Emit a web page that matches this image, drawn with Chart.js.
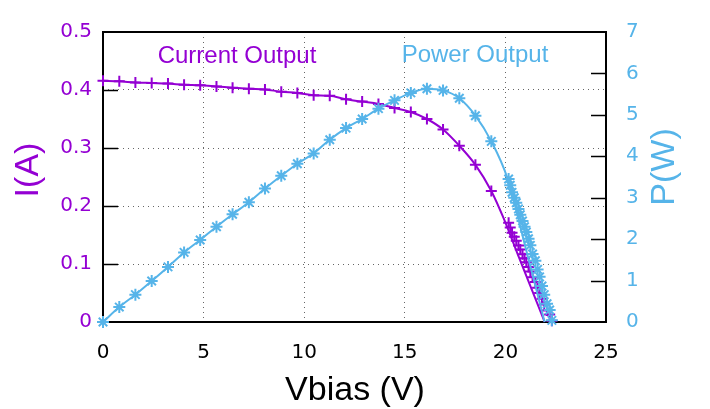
<!DOCTYPE html>
<html>
<head>
<meta charset="utf-8">
<script src="https://cdn.jsdelivr.net/npm/chart.js@4"></script>
<style>
  html, body { margin: 0; padding: 0; background: #fff; overflow: hidden; }
  canvas { display: block; }
</style>
</head>
<body>
<canvas id="ivChart" width="710" height="409"></canvas>
<script>
/* --- solar cell I-V / P-V sweep --- */

const PURPLE = '#9400d3';
const SKY = '#56b4e9';

// measured sweep (V), current (A), power (W)
const vbias = [0, 0.81, 1.61, 2.42, 3.23, 4.03, 4.83, 5.64, 6.44, 7.25, 8.05, 8.86, 9.66,
    10.47, 11.27, 12.08, 12.88, 13.69, 14.49, 15.3, 16.1, 16.9, 17.71, 18.51, 19.3,
    20.16, 20.24, 20.33, 20.44, 20.54, 20.65, 20.74, 20.85, 20.95, 21.04, 21.15,
    21.24, 21.35, 21.49, 21.6, 21.7, 21.82, 21.93, 22.07, 22.2, 22.31];
const current = [0.416, 0.415, 0.413, 0.412, 0.411, 0.409, 0.408, 0.406, 0.404, 0.402, 0.401, 0.397, 0.395,
    0.391, 0.39, 0.384, 0.38, 0.376, 0.369, 0.362, 0.35, 0.332, 0.304, 0.271, 0.226,
    0.171, 0.163, 0.154, 0.147, 0.14, 0.132, 0.125, 0.117, 0.11, 0.103, 0.095,
    0.087, 0.077, 0.069, 0.059, 0.05, 0.04, 0.03, 0.02, 0.013, 0.002];
const power = [0, 0.36, 0.66, 0.99, 1.33, 1.68, 1.98, 2.3, 2.6, 2.89, 3.22, 3.53, 3.82,
    4.07, 4.4, 4.68, 4.9, 5.15, 5.35, 5.53, 5.63, 5.59, 5.4, 4.98, 4.36,
    3.45, 3.3, 3.13, 3.0, 2.88, 2.73, 2.59, 2.44, 2.3, 2.17, 2.01,
    1.85, 1.64, 1.48, 1.27, 1.09, 0.87, 0.66, 0.44, 0.29, 0.04];

// smoothed curves: follow the sweep up to 19.3 V, then these tails
const SMOOTH_UNTIL = 25; // number of sweep points the curves share
const currentTailV = [19.91, 20.6, 21.95];
const currentTailI = [0.179, 0.118, 0];
const powerTailV = [20.1, 21.0, 21.95];
const powerTailP = [3.47, 1.8, 0];

const xTicks = [0, 5, 10, 15, 20, 25];
const iTicks = [0.1, 0.2, 0.3, 0.4];
const pTicks = [1, 2, 3, 4, 5, 6];

function pts(xs, ys) {
    return xs.map((x, i) => ({ x: x, y: ys[i] }));
}

const currentCurve = pts(vbias.slice(0, SMOOTH_UNTIL), current.slice(0, SMOOTH_UNTIL))
    .concat(pts(currentTailV, currentTailI));
const powerCurve = pts(vbias.slice(0, SMOOTH_UNTIL), power.slice(0, SMOOTH_UNTIL))
    .concat(pts(powerTailV, powerTailP));

/** frame, inward ticks, titles, labels **/
const decorations = {
    id: 'decorations',
    beforeDatasetsDraw(chart) {
        const { ctx, chartArea: a, scales } = chart;
        ctx.save();
        ctx.strokeStyle = '#000';
        ctx.lineWidth = 1.5;
        ctx.beginPath();
        iTicks.forEach(v => {
            const y = Math.round(scales.y.getPixelForValue(v)) + 0.5;
            ctx.moveTo(a.left, y);
            ctx.lineTo(a.left + 15, y);
        });
        pTicks.forEach(v => {
            const y = Math.round(scales.y2.getPixelForValue(v)) + 0.5;
            ctx.moveTo(a.right, y);
            ctx.lineTo(a.right - 15, y);
        });
        ctx.stroke();
        ctx.lineWidth = 2;
        ctx.strokeRect(a.left, a.top, a.right - a.left, a.bottom - a.top);
        ctx.restore();
    },
    afterDraw(chart) {
        const { ctx } = chart;
        ctx.save();
        ctx.textAlign = 'center';

        ctx.font = '34px "Liberation Sans", Arial, sans-serif';
        ctx.textBaseline = 'middle';
        ctx.fillStyle = PURPLE;
        ctx.translate(29, 170);
        ctx.rotate(-Math.PI / 2);
        ctx.fillText('I(A)', 0, 0);
        ctx.setTransform(1, 0, 0, 1, 0, 0);

        ctx.fillStyle = SKY;
        ctx.translate(665, 167);
        ctx.rotate(-Math.PI / 2);
        ctx.fillText('P(W)', 0, 0);
        ctx.setTransform(1, 0, 0, 1, 0, 0);

        ctx.textBaseline = 'alphabetic';
        ctx.fillStyle = '#000';
        ctx.fillText('Vbias (V)', 355, 400);

        ctx.font = '24px "Liberation Sans", Arial, sans-serif';
        ctx.fillStyle = PURPLE;
        ctx.fillText('Current Output', 237, 63);
        ctx.fillStyle = SKY;
        ctx.fillText('Power Output', 475, 62);
        ctx.restore();
    }
};

const tickFont = { family: '"DejaVu Sans", Verdana, sans-serif', size: 20 };
const dotted = { display: false, dash: [1, 4] };

new Chart(document.getElementById('ivChart'), {
    type: 'scatter',
    data: {
        datasets: [
            {
                label: 'Current fit',
                data: currentCurve,
                yAxisID: 'y',
                showLine: true,
                borderColor: PURPLE,
                borderWidth: 2,
                pointRadius: 0,
                cubicInterpolationMode: 'monotone',
                clip: false,
                order: 4
            },
            {
                label: 'Current Output',
                data: pts(vbias, current),
                yAxisID: 'y',
                showLine: false,
                pointStyle: 'cross',
                pointRadius: 5.5,
                pointBorderWidth: 2,
                pointBorderColor: PURPLE,
                pointBackgroundColor: PURPLE,
                clip: false,
                order: 3
            },
            {
                label: 'Power fit',
                data: powerCurve,
                yAxisID: 'y2',
                showLine: true,
                borderColor: SKY,
                borderWidth: 2,
                pointRadius: 0,
                cubicInterpolationMode: 'monotone',
                clip: false,
                order: 2
            },
            {
                label: 'Power Output',
                data: pts(vbias, power),
                yAxisID: 'y2',
                showLine: false,
                pointStyle: 'star',
                pointRadius: 6,
                pointBorderWidth: 2,
                pointBorderColor: SKY,
                pointBackgroundColor: SKY,
                clip: false,
                order: 1
            }
        ]
    },
    options: {
        responsive: false,
        animation: false,
        devicePixelRatio: 1,
        layout: { padding: { top: 19, left: 0, right: 0, bottom: 0 } },
        plugins: { legend: { display: false }, tooltip: { enabled: false } },
        scales: {
            x: {
                type: 'linear',
                min: 0,
                max: 25,
                afterBuildTicks: s => { s.ticks = xTicks.map(v => ({ value: v })); },
                afterFit: s => { s.height = 87; },
                ticks: { color: '#000', font: tickFont, padding: 19, maxRotation: 0 },
                grid: { color: '#666', lineWidth: 1, drawTicks: false },
                border: dotted
            },
            y: {
                position: 'left',
                min: 0,
                max: 0.5,
                ticks: { stepSize: 0.1, color: PURPLE, font: tickFont, padding: 11 },
                afterFit: s => { s.width = 103; },
                grid: { color: '#666', lineWidth: 1, drawTicks: false },
                border: dotted
            },
            y2: {
                position: 'right',
                min: 0,
                max: 7,
                ticks: { stepSize: 1, color: SKY, font: tickFont, padding: 20 },
                afterFit: s => { s.width = 104; },
                grid: { display: false, drawTicks: false },
                border: { display: false }
            }
        }
    },
    plugins: [decorations]
});
</script>
</body>
</html>
